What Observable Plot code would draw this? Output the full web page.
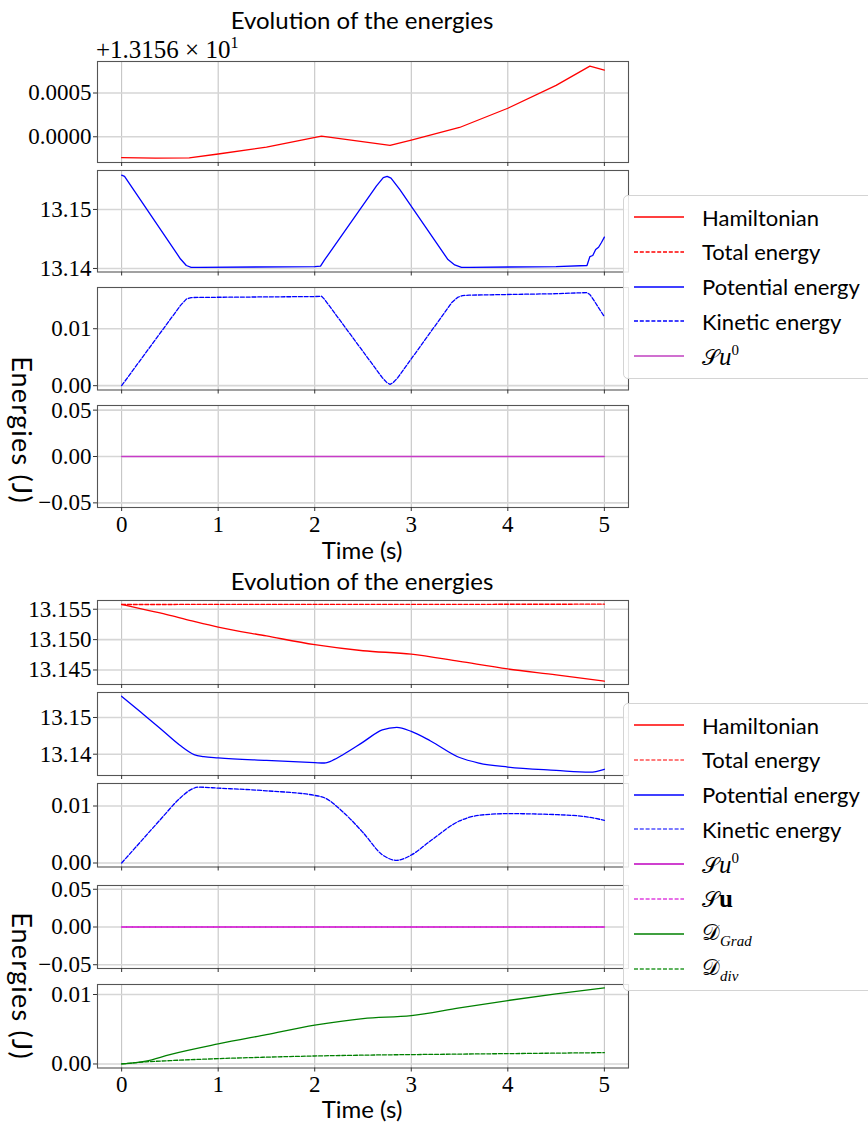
<!DOCTYPE html>
<html>
<head>
<meta charset="utf-8">
<script src="https://cdn.jsdelivr.net/npm/d3@7"></script>
<script src="https://cdn.jsdelivr.net/npm/@observablehq/plot@0.6"></script>
<style>
  html, body { margin: 0; padding: 0; background: #fff; }
  #page { position: relative; width: 868px; height: 1122px; overflow: hidden; background: #fff; }
  .sans { font-family: Lato, "DejaVu Sans", sans-serif; color: #000; position: absolute; white-space: nowrap; }
  .serif { font-family: "Liberation Serif", "DejaVu Serif", serif; color: #000; position: absolute; white-space: nowrap; }
  .legend { position: absolute; border: 1px solid #d4d4d4; border-radius: 5px; background: rgba(255,255,255,0.85); }
  .legend .row { position: absolute; left: 0; height: 34px; display: flex; align-items: center; }
  .legend .lbl { position: absolute; left: 78px; font-family: Lato, "DejaVu Sans", sans-serif; font-size: 22px; white-space: nowrap; }
  .math { font-family: "DejaVu Serif", "Liberation Serif", serif; }
  .math i { font-family: "Liberation Serif", serif; font-style: italic; font-size: 25px; }
  .math sup { font-size: 15px; vertical-align: 10px; font-family: "Liberation Serif", serif; }
  .math sub { font-size: 15px; vertical-align: -6px; font-family: "Liberation Serif", serif; font-style: italic; }
  svg.panel { position: absolute; left: 0; overflow: visible; }
</style>
</head>
<body>
<div id="page"></div>
<script>
// ---------------- DATA ----------------
const xTicks = [0, 1, 2, 3, 4, 5];

// Figure 1 (top)
// Hamiltonian minus offset 13.156
const topHamTime = [0, 0.35, 0.7, 1.0, 1.5, 2.07, 2.78, 3.0, 3.5, 4.0, 4.5, 4.85, 5.0];
const topHamValue = [-0.000239, -0.000244, -0.000242, -0.000197, -0.000118, 0.0000075, -0.0000985, -0.000038, 0.000106, 0.000326, 0.000587, 0.000807, 0.000761];

const topPotTime = [0, 0.03, 0.61, 0.67, 0.72, 0.8, 2.0, 2.06, 2.1, 2.64, 2.71, 2.75, 2.79, 2.88, 3.38, 3.45, 3.52, 3.6, 4.5, 4.82, 4.85, 4.88, 4.91, 4.94, 4.97, 5.0];
const topPotValue = [13.1558, 13.1556, 13.1416, 13.1405, 13.1402, 13.1402, 13.1403, 13.1404, 13.1414, 13.1540, 13.1554, 13.1556, 13.1553, 13.1534, 13.1415, 13.1406, 13.1402, 13.1402, 13.1403, 13.1405, 13.1420, 13.1422, 13.1432, 13.1436, 13.1444, 13.1453];

const topKinTime = [0, 0.61, 0.67, 0.72, 0.8, 2.0, 2.07, 2.1, 2.7, 2.75, 2.78, 2.81, 2.86, 3.42, 3.48, 3.53, 3.6, 4.5, 4.82, 4.85, 4.9, 5.0];
const topKinValue = [0.0000, 0.0141, 0.0152, 0.01547, 0.01550, 0.01565, 0.01571, 0.0152, 0.0014, 0.0005, 0.00024, 0.0005, 0.0014, 0.0146, 0.0155, 0.01582, 0.01590, 0.01615, 0.01635, 0.0160, 0.01476, 0.0121];

const topSu0Time = [0, 5];
const topSu0Value = [0, 0];

// Figure 2 (bottom)
const botHamTime = [0, 0.25, 0.5, 0.75, 1, 1.5, 2, 2.5, 3, 3.5, 4, 4.5, 5];
const botHamValue = [13.1558, 13.1549, 13.1540, 13.1530, 13.15206, 13.1506, 13.14917, 13.14817, 13.14761, 13.1464, 13.14517, 13.1442, 13.14317];
const botTotTime = [0, 1, 2, 3, 4, 5];
const botTotValue = [13.15578, 13.15579, 13.1558, 13.15581, 13.15582, 13.15583];

const botPotTime = [0, 0.2, 0.4, 0.6, 0.75, 0.85, 1, 1.5, 2, 2.1, 2.2, 2.3, 2.5, 2.7, 2.85, 3, 3.2, 3.5, 3.7, 4, 4.5, 4.85, 5];
const botPotValue = [13.15577, 13.1514, 13.1470, 13.1425, 13.1399, 13.13935, 13.1390, 13.1383, 13.1377, 13.1376, 13.1385, 13.1400, 13.1433, 13.1466, 13.1473, 13.1462, 13.1436, 13.1391, 13.1376, 13.1365, 13.1356, 13.1351, 13.1359];

const botKinTime = [0, 0.2, 0.4, 0.6, 0.7, 0.8, 1, 1.5, 2, 2.1, 2.3, 2.5, 2.7, 2.85, 3, 3.2, 3.5, 3.7, 4, 4.5, 4.8, 5];
const botKinValue = [0, 0.0038, 0.0076, 0.0113, 0.0127, 0.01331, 0.01314, 0.01267, 0.01186, 0.01145, 0.00884, 0.00535, 0.00145, 0.00047, 0.0014, 0.0039, 0.00738, 0.00837, 0.00866, 0.00849, 0.00814, 0.0075];

const botSTime = [0, 5];
const botSu0Value = [0, 0];
const botSuValue = [0, 0];

const botDTime = [0, 0.25, 0.5, 1, 1.5, 2, 2.5, 3, 3.5, 4, 4.5, 5];
const botDGradValue = [0, 0.0004, 0.00135, 0.00288, 0.00423, 0.00558, 0.00654, 0.00697, 0.00808, 0.00913, 0.0101, 0.01096];
const botDDivValue = [0, 0.0003, 0.00048, 0.00077, 0.00098, 0.00115, 0.00127, 0.00135, 0.00142, 0.00149, 0.00156, 0.00163];

// ---------------- DRAWING ----------------
const page = document.getElementById("page");
const zip = (ts, vs) => ts.map((t, i) => ({t, v: vs[i]}));
const DASH = "4,1.8";

function panel({top, bottom, yDomain, yTicks, fmt, series, showX, curve}) {
  const mt = 14, mb = showX ? 40 : 14;
  const h = (bottom - top) + mt + mb;
  const marks = [
    Plot.gridX(xTicks, {stroke: "#b8b8b8", strokeOpacity: 1, strokeWidth: 0.9}),
    Plot.gridY(yTicks, {stroke: "#d6d6d6", strokeOpacity: 1, strokeWidth: 1.6}),
    Plot.frame({stroke: "#555", strokeWidth: 1.1}),
    ...series.map(s => Plot.line(zip(s.t, s.v), {
      x: "t", y: "v", stroke: s.color, strokeWidth: 1.3,
      strokeDasharray: s.dash ? DASH : null, curve: curve || "linear"
    })),
    Plot.axisX(xTicks, {tickSize: 4, tickPadding: 4, stroke: "#333", label: null,
      tickFormat: showX ? d => String(d) : () => ""}),
    Plot.axisY(yTicks, {tickSize: 4, tickPadding: 2, stroke: "#333", label: null, tickFormat: d3.format(fmt)})
  ];
  const svg = Plot.plot({
    width: 868, height: h,
    marginLeft: 97, marginRight: 240, marginTop: mt, marginBottom: mb,
    x: {domain: [-0.25, 5.25], label: null},
    y: {domain: yDomain, label: null},
    style: {fontFamily: "'Liberation Serif', 'DejaVu Serif', serif", fontSize: "23px", color: "#000", background: "transparent", overflow: "visible"},
    marks
  });
  svg.classList.add("panel");
  svg.style.top = (top - mt) + "px";
  page.appendChild(svg);
}

function text(cls, html, x, y, size, extra) {
  const d = document.createElement("div");
  d.className = cls;
  d.innerHTML = html;
  d.style.left = x + "px";
  d.style.top = y + "px";
  d.style.fontSize = size + "px";
  d.style.transform = extra || "translate(-50%, -50%)";
  page.appendChild(d);
  return d;
}

function legend(left, top, items) {
  const lg = document.createElement("div");
  lg.className = "legend";
  lg.style.left = left + "px";
  lg.style.top = top + "px";
  lg.style.width = "270px";
  lg.style.height = (items.length * 34.8 + 8) + "px";
  items.forEach((it, i) => {
    const row = document.createElement("div");
    row.className = "row";
    row.style.top = (4 + i * 34.8) + "px";
    row.style.width = "270px";
    row.innerHTML = `<svg width="70" height="34" style="position:absolute;left:0;top:0"><line x1="10" x2="60" y1="17" y2="17" stroke="${it.color}" stroke-width="1.4" ${it.dash ? `stroke-dasharray="${DASH}"` : ""}/></svg><span class="lbl">${it.label}</span>`;
    lg.appendChild(row);
  });
  page.appendChild(lg);
}

const RED = "#ff0000", BLUE = "#0000ff", MAG = "#bf00bf", MAG2 = "#e040e0", GREEN = "#008000", GREEN2 = "#2a9a2a";

// ---- Figure 1 ----
text("sans", "Evolution of the energies", 362, 19, 24);
text("serif", "+1.3156 × 10<sup style='font-size:16px;vertical-align:10px'>1</sup>", 96, 49, 25, "translate(0, -50%)");

panel({top: 61, bottom: 162, yDomain: [-0.000294, 0.00086], yTicks: [0, 0.0005], fmt: ".4f",
  series: [{t: topHamTime, v: topHamValue, color: RED}]});
panel({top: 170, bottom: 271.5, yDomain: [13.1394, 13.1566], yTicks: [13.14, 13.15], fmt: ".2f",
  series: [{t: topPotTime, v: topPotValue, color: BLUE}]});
panel({top: 286.5, bottom: 389, yDomain: [-0.00076, 0.01724], yTicks: [0, 0.01], fmt: ".2f",
  series: [{t: topKinTime, v: topKinValue, color: BLUE, dash: true}]});
panel({top: 405, bottom: 507, yDomain: [-0.055, 0.055], yTicks: [-0.05, 0, 0.05], fmt: ".2f", showX: true,
  series: [{t: topSu0Time, v: topSu0Value, color: "#c83cc8"}]});

text("sans", "Time (s)", 362, 549, 24);
text("sans", "Energies (J)", 22, 430, 27, "translate(-50%, -50%) rotate(90deg)").style.letterSpacing = "1.2px";

legend(623, 195, [
  {label: "Hamiltonian", color: RED},
  {label: "Total energy", color: RED, dash: true},
  {label: "Potential energy", color: BLUE},
  {label: "Kinetic energy", color: BLUE, dash: true},
  {label: "<span class='math'>𝒮<i>u</i><sup>0</sup></span>", color: "#c040c0"}
]);

// ---- Figure 2 ----
text("sans", "Evolution of the energies", 362, 580, 24);

panel({top: 600, bottom: 684, yDomain: [13.14261, 13.15644], yTicks: [13.145, 13.15, 13.155], fmt: ".3f", curve: "monotone-x",
  series: [{t: botHamTime, v: botHamValue, color: RED}, {t: botTotTime, v: botTotValue, color: RED, dash: true}]});
panel({top: 691.5, bottom: 774.5, yDomain: [13.1342, 13.1568], yTicks: [13.14, 13.15], fmt: ".2f", curve: "monotone-x",
  series: [{t: botPotTime, v: botPotValue, color: BLUE}]});
panel({top: 782.5, bottom: 866, yDomain: [-0.0007, 0.01395], yTicks: [0, 0.01], fmt: ".2f", curve: "monotone-x",
  series: [{t: botKinTime, v: botKinValue, color: BLUE, dash: true}]});
panel({top: 885, bottom: 968, yDomain: [-0.055, 0.055], yTicks: [-0.05, 0, 0.05], fmt: ".2f",
  series: [{t: botSTime, v: botSu0Value, color: MAG}, {t: botSTime, v: botSuValue, color: MAG2, dash: true}]});
panel({top: 983.5, bottom: 1067, yDomain: [-0.00058, 0.01144], yTicks: [0, 0.01], fmt: ".2f", showX: true, curve: "monotone-x",
  series: [{t: botDTime, v: botDGradValue, color: GREEN}, {t: botDTime, v: botDDivValue, color: GREEN, dash: true}]});

text("sans", "Time (s)", 362, 1108, 24);
text("sans", "Energies (J)", 22, 986, 27, "translate(-50%, -50%) rotate(90deg)").style.letterSpacing = "1.2px";

legend(623, 703, [
  {label: "Hamiltonian", color: RED},
  {label: "Total energy", color: "#ff5050", dash: true},
  {label: "Potential energy", color: BLUE},
  {label: "Kinetic energy", color: "#5050ff", dash: true},
  {label: "<span class='math'>𝒮<i>u</i><sup>0</sup></span>", color: MAG},
  {label: "<span class='math'>𝒮<b style='font-family:\"Liberation Serif\",serif;font-size:25px'>u</b></span>", color: MAG2, dash: true},
  {label: "<span class='math'>𝒟<sub>Grad</sub></span>", color: GREEN},
  {label: "<span class='math'>𝒟<sub>div</sub></span>", color: GREEN2, dash: true}
]);
</script>
</body>
</html>
